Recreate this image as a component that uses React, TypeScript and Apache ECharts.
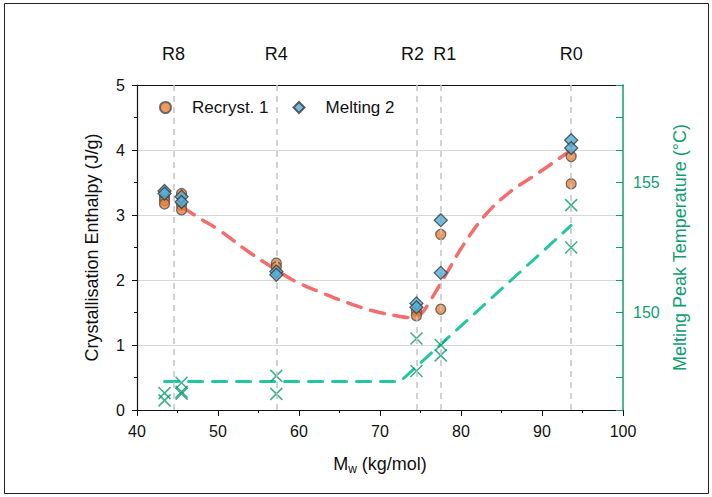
import React, { useEffect, useRef } from "react";
import * as echarts from "echarts";

// Sample positions (Mw, kg/mol) and labels
const refNames = ["R8", "R4", "R2", "R1", "R0"];
const refMw = [44.5, 57.2, 74.5, 77.5, 93.6];

// Recryst. 1 — crystallisation enthalpy (J/g)
const recrystMw = [43.4, 43.4, 43.4, 45.5, 45.5, 45.5, 57.2, 57.2, 74.5, 74.5, 77.5, 77.5, 93.6, 93.6];
const recrystH = [3.27, 3.22, 3.17, 3.33, 3.15, 3.08, 2.26, 2.2, 1.52, 1.45, 2.7, 1.55, 3.9, 3.48];

// Melting 2 — enthalpy (J/g)
const meltMw = [43.4, 43.4, 45.5, 45.5, 57.2, 57.2, 74.5, 74.5, 77.5, 77.5, 93.6, 93.6];
const meltH = [3.37, 3.33, 3.28, 3.2, 2.13, 2.08, 1.64, 1.58, 2.92, 2.11, 4.15, 4.03];

// Melting peak temperature (°C)
const tempMw = [43.4, 43.4, 45.5, 45.5, 45.5, 57.2, 57.2, 74.5, 74.5, 77.5, 77.5, 93.6, 93.6];
const tempT = [146.9, 146.62, 147.3, 146.95, 146.88, 147.56, 146.87, 149.0, 147.75, 148.75, 148.35, 154.13, 152.5];

// Trend curve for enthalpy (red dashed)
const enthFitMw = [45.6, 48, 50, 53.6, 57, 59.7, 62.9, 66, 69, 72, 74, 75, 76.1, 78.3, 80.3, 83, 86, 89.7, 93.6];
const enthFitH = [3.12, 2.93, 2.78, 2.45, 2.17, 1.97, 1.8, 1.65, 1.53, 1.45, 1.42, 1.47, 1.66, 2.12, 2.54, 3.0, 3.35, 3.66, 4.0];

// Trend for temperature (green dashed)
const tempFitMw = [43.4, 72.5, 93.6];
const tempFitT = [147.35, 147.35, 153.35];

const zip = (a: number[], b: number[]) => a.map((v, i) => [v, b[i]]);

const FONT = "'Liberation Sans', Arial, sans-serif";
const GREEN = "#0E9E72";

const labelShift: Record<string, number> = { R2: -4, R1: 4 };

export default function App() {
  const ref = useRef<HTMLDivElement>(null);
  useEffect(() => {
    const chart = echarts.init(ref.current!, undefined, { renderer: "svg" });
    chart.setOption({
      animation: false,
      backgroundColor: "#fff",
      textStyle: { fontFamily: FONT },
      grid: { left: 137, right: 89, top: 85, bottom: 87, containLabel: false },
      graphic: [
        {
          type: "rect",
          shape: { x: 4.5, y: 3.5, width: 704, height: 490 },
          style: { fill: "none", stroke: "#222", lineWidth: 1 },
          silent: true,
        },
      ],
      legend: {
        data: ["Recryst. 1", "Melting 2"],
        left: 159,
        top: 99,
        padding: 0,
        itemWidth: 11,
        itemHeight: 11,
        itemGap: 24,
        textStyle: { fontSize: 17, color: "#111", fontFamily: FONT, padding: [0, 0, 0, 16] },
      },
      xAxis: [
        {
          type: "value",
          min: 40,
          max: 100,
          interval: 10,
          name: "{m|M}{s|w}{m| (kg/mol)}",
          nameLocation: "middle",
          nameGap: 42,
          nameTextStyle: {
            rich: {
              m: { fontSize: 18, color: "#111", fontFamily: FONT },
              s: { fontSize: 12, color: "#111", fontFamily: FONT, padding: [11, 0, 0, 0] },
            },
          },
          axisLine: { show: true, onZero: false, lineStyle: { color: "#111", width: 1.2 } },
          axisTick: { show: true, inside: false, length: 6, lineStyle: { color: "#111" } },
          minorTick: { show: true, splitNumber: 2, length: 3, lineStyle: { color: "#111" } },
          axisLabel: { fontSize: 16, color: "#111", margin: 13, fontFamily: FONT },
          splitLine: { show: false },
        },
        {
          type: "value",
          min: 40,
          max: 100,
          position: "top",
          axisLine: { show: true, onZero: false, lineStyle: { color: "#111", width: 1.2 } },
          axisTick: { show: false },
          axisLabel: { show: false },
          splitLine: { show: false },
        },
      ],
      yAxis: [
        {
          type: "value",
          min: 0,
          max: 5,
          interval: 1,
          name: "Crystallisation Enthalpy (J/g)",
          nameLocation: "middle",
          nameGap: 36,
          nameTextStyle: { fontSize: 18, color: "#111", fontFamily: FONT },
          axisLine: { show: true, onZero: false, lineStyle: { color: "#111", width: 1.2 } },
          axisTick: { show: true, inside: false, length: 5, lineStyle: { color: "#111" } },
          minorTick: { show: true, splitNumber: 2, length: 3, lineStyle: { color: "#111" } },
          axisLabel: { fontSize: 16, color: "#111", margin: 12, fontFamily: FONT },
          splitLine: { show: true, lineStyle: { color: "#d8d8d8", width: 1 } },
        },
        {
          type: "value",
          min: 146.25,
          max: 158.75,
          interval: 1.25,
          position: "right",
          name: "Melting Peak Temperature (°C)",
          nameLocation: "middle",
          nameRotate: 90,
          nameGap: 47,
          nameTextStyle: { fontSize: 18, color: GREEN, fontFamily: FONT },
          axisLine: { show: true, onZero: false, lineStyle: { color: GREEN, width: 1.5 } },
          axisTick: { show: true, inside: true, length: 7, lineStyle: { color: GREEN } },
          axisLabel: {
            fontSize: 16,
            color: GREEN,
            margin: 10,
            fontFamily: FONT,
            formatter: (v: number) => (Math.abs(v - 150) < 1e-6 || Math.abs(v - 155) < 1e-6 ? String(Math.round(v)) : ""),
          },
          splitLine: { show: false },
        },
      ],
      series: [
        {
          name: "enthalpy trend",
          type: "line",
          data: zip(enthFitMw, enthFitH),
          smooth: 0.4,
          showSymbol: false,
          symbol: "none",
          silent: true,
          z: 1,
          lineStyle: { color: "#F46C6C", width: 3.5, type: [14, 10], cap: "round" },
          markLine: {
            silent: true,
            symbol: ["none", "none"],
            lineStyle: { color: "#c4c4c4", type: [6, 5], width: 1.5 },
            label: {
              show: true,
              position: "end",
              formatter: "{b}",
              fontSize: 18,
              color: "#111",
              fontFamily: FONT,
              distance: 22,
            },
            data: refNames.map((n, i) => ({
              name: n,
              xAxis: refMw[i],
              label: { offset: [labelShift[n] || 0, 0] },
            })),
          },
        },
        {
          name: "temperature trend",
          type: "line",
          yAxisIndex: 1,
          data: zip(tempFitMw, tempFitT),
          showSymbol: false,
          symbol: "none",
          silent: true,
          z: 1,
          lineStyle: { color: "#22C7A2", width: 3, type: [14, 10], cap: "round" },
        },
        {
          name: "Tm",
          type: "scatter",
          yAxisIndex: 1,
          data: zip(tempMw, tempT),
          symbol: "path://M0,0L10,10M10,0L0,10",
          symbolSize: 12,
          itemStyle: { color: "transparent", borderColor: GREEN, borderWidth: 1.6 },
          z: 3,
        },
        {
          name: "Recryst. 1",
          type: "scatter",
          data: zip(recrystMw, recrystH),
          symbol: "circle",
          symbolSize: 10,
          itemStyle: { color: "#E8823C", borderColor: "#505050", borderWidth: 1.3 },
          z: 4,
        },
        {
          name: "Melting 2",
          type: "scatter",
          data: zip(meltMw, meltH),
          symbol: "diamond",
          symbolSize: 13,
          itemStyle: { color: "#52AED8", borderColor: "#3a3a3a", borderWidth: 1.3 },
          z: 5,
        },
      ],
    });
    return () => chart.dispose();
  }, []);
  return (
    <div
      ref={ref}
      style={{ position: "fixed", left: 0, top: 0, width: 712, height: 497, background: "#fff" }}
    />
  );
}
